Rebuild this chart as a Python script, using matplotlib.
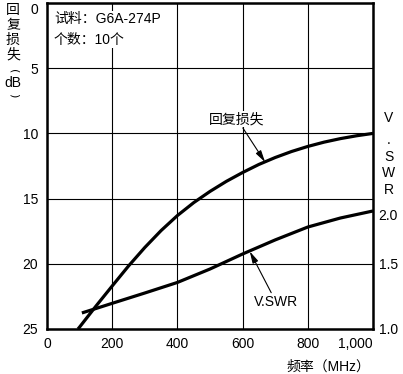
import numpy as np
import matplotlib
matplotlib.use("Agg")
import matplotlib.pyplot as plt

plt.rcParams["font.family"] = ["Liberation Sans", "Noto Sans CJK SC", "DejaVu Sans"]
plt.rcParams["font.size"] = 10

# return loss (dB) vs frequency (MHz)
rl_freq = [95, 100, 150, 200, 250, 300, 350, 400, 450, 500, 550, 600,
           650, 700, 750, 800, 850, 900, 950, 1000]
rl_db = [25.0, 24.85, 23.25, 21.7, 20.17, 18.75, 17.45, 16.3, 15.31, 14.45, 13.68, 13.0,
         12.38, 11.85, 11.39, 11.0, 10.67, 10.4, 10.18, 10.0]

# V.SWR vs frequency (MHz)
vswr_freq = [107, 150, 200, 300, 400, 500, 600, 700, 800, 900, 1000]
vswr_val = [1.123, 1.157, 1.197, 1.276, 1.357, 1.46, 1.599, 1.741, 1.871, 1.962, 2.031]

x_ticks = [0, 200, 400, 600, 800, 1000]
x_labels = ["0", "200", "400", "600", "800", "1,000"]
db_ticks = [0, 5, 10, 15, 20, 25]
vswr_ticks = [1.0, 1.5, 2.0]

# V.SWR scale is not linear against the dB axis: anchor points
vs_knots = np.array([1.0, 1.5, 2.0, 4.0])
db_knots = np.array([25.0, 20.0, 16.2, 0.0])


def vswr_fwd(v):
    return np.interp(v, vs_knots, 25 - db_knots)


def vswr_inv(p):
    return np.interp(p, 25 - db_knots, vs_knots)


fig = plt.figure(figsize=(4.03, 3.74), dpi=100)
ax = fig.add_axes([47 / 403, 1 - 329 / 374, 326 / 403, 326 / 374])

ax.set_xlim(0, 1000)
ax.set_ylim(25, 0)
ax.set_xticks(x_ticks)
ax.set_xticklabels(x_labels)
ax.set_yticks(db_ticks)
ax.tick_params(length=0, pad=6.5)
ax.tick_params(axis="x", pad=6)
ax.get_xticklabels()[-1].set_ha("right")
ylabels = ax.get_yticklabels()
ylabels[0].set_va("top")
ylabels[-1].set_va("center_baseline")
ax.grid(True, color="black", lw=0.8)
for s in ax.spines.values():
    s.set_linewidth(1.8)

ax.plot(rl_freq, rl_db, color="black", lw=2.3, solid_capstyle="butt")

ax2 = ax.twinx()
ax2.set_yscale("function", functions=(vswr_fwd, vswr_inv))
ax2.set_ylim(1.0, 4.0)
ax2.set_yticks(vswr_ticks)
ax2.set_yticklabels(["1.0", "1.5", "2.0"])
ax2.tick_params(length=0, pad=4)
ax2.get_yticklabels()[0].set_va("center_baseline")
for s in ax2.spines.values():
    s.set_visible(False)
ax2.plot(vswr_freq, vswr_val, color="black", lw=2.3, solid_capstyle="butt")

arrow = dict(arrowstyle="-|>,head_length=0.7,head_width=0.18", color="black",
             lw=0.8, shrinkA=1, shrinkB=0)
ax.annotate("回复损失", xy=(669, 12.2), xytext=(583, 8.9), ha="center", va="center",
            arrowprops=arrow,
            bbox=dict(facecolor="white", edgecolor="none", pad=0.5))
ax2.annotate("V.SWR", xy=(622, 1.625), xytext=(702, 1.21), ha="center", va="center",
             arrowprops=arrow,
             bbox=dict(facecolor="white", edgecolor="none", pad=0.5))

ax.text(0.021, 0.972, "试料：G6A-274P\n个数：10个", transform=ax.transAxes,
        ha="left", va="top", linespacing=1.6,
        bbox=dict(facecolor="white", edgecolor="none", pad=1))

# stacked axis titles
for ch, y in zip(["回", "复", "损", "失", "dB"], [10, 25, 40, 54, 83]):
    fig.text(13 / 403, 1 - y / 374, ch, ha="center", va="center")
for ch, y in zip(["(", ")"], [71, 95]):
    fig.text(14 / 403, 1 - y / 374, ch, ha="center", va="center",
             rotation=-90, fontsize=8, family="DejaVu Sans")
for ch, y in zip(["V", ".", "S", "W", "R"], [118, 140, 157, 173, 190]):
    fig.text(389 / 403, 1 - y / 374, ch, ha="center", va="center")

fig.text(370 / 403, 1 - 367 / 374, "频率（MHz）", ha="right", va="center")

fig.savefig("out.png", dpi=100)
